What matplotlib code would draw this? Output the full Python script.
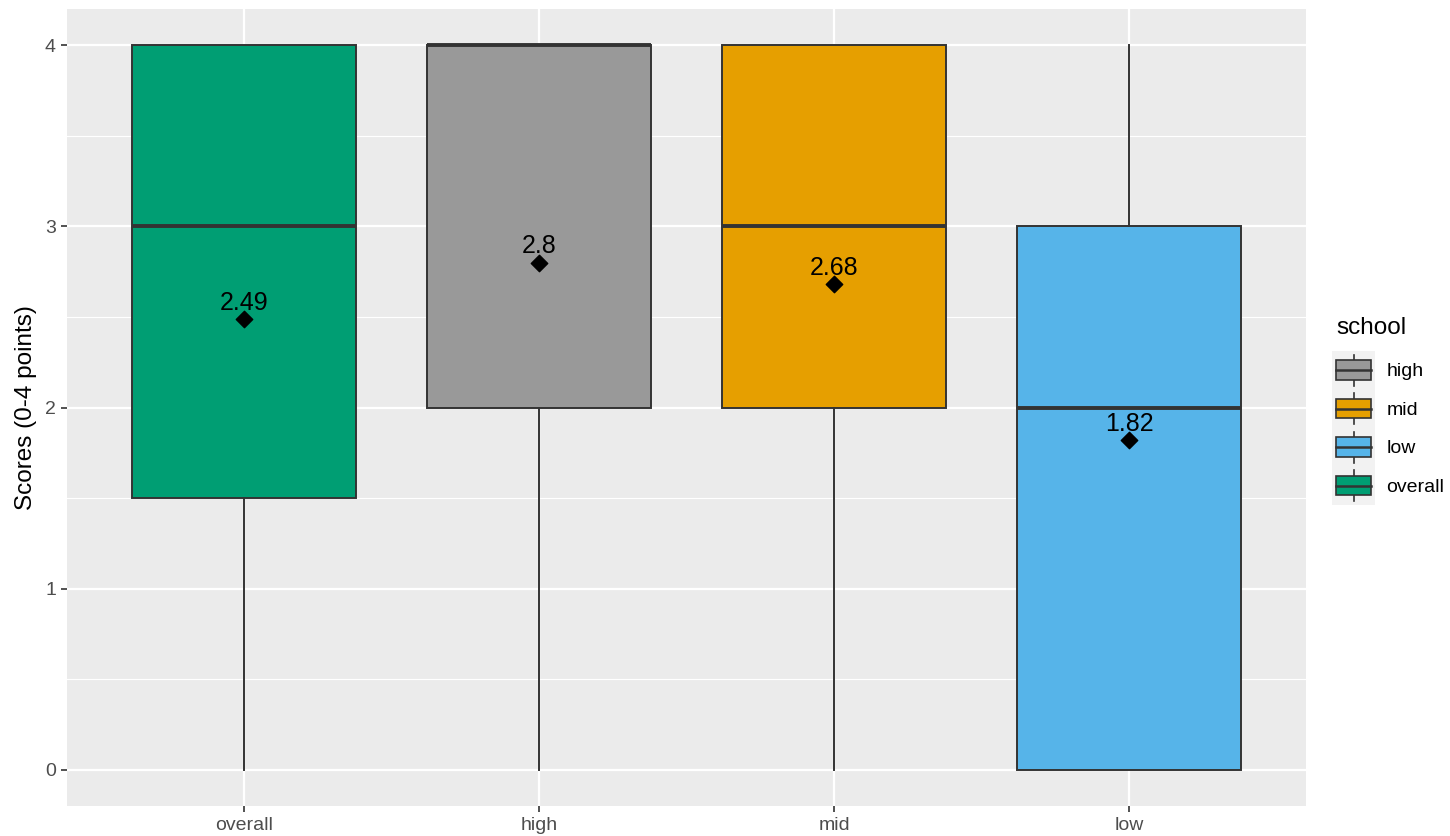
import matplotlib
matplotlib.use("Agg")
import matplotlib.pyplot as plt
from matplotlib.patches import Patch, Rectangle
from matplotlib.legend_handler import HandlerBase
from matplotlib.lines import Line2D

# --- data ---
groups = ["overall", "high", "mid", "low"]
q1 = [1.5, 2.0, 2.0, 0.0]
medians = [3.0, 4.0, 3.0, 2.0]
q3 = [4.0, 4.0, 4.0, 3.0]
whis_lo = [0.0, 0.0, 0.0, 0.0]
whis_hi = [4.0, 4.0, 4.0, 4.0]
means = [2.49, 2.8, 2.68, 1.82]
colors = {"overall": "#009E73", "high": "#999999", "mid": "#E69F00", "low": "#56B4E9"}
legend_order = ["high", "mid", "low", "overall"]

plt.rcParams["font.family"] = ["Liberation Sans", "DejaVu Sans"]

fig = plt.figure(figsize=(14.5, 8.36), dpi=100)
ax = fig.add_axes([67 / 1450, 1 - 806 / 836, (1306 - 67) / 1450, (806 - 9) / 836])

ax.set_facecolor("#EBEBEB")
for s in ax.spines.values():
    s.set_visible(False)

# gridlines, ggplot grey theme
for y in [0.5, 1.5, 2.5, 3.5]:
    ax.axhline(y, color="white", lw=0.8, zorder=0)
for y in [0, 1, 2, 3, 4]:
    ax.axhline(y, color="white", lw=1.6, zorder=0)
for x in range(len(groups)):
    ax.axvline(x, color="white", lw=1.6, zorder=0)

stats = []
for i, g in enumerate(groups):
    stats.append({"label": g, "q1": q1[i], "med": medians[i], "q3": q3[i],
                  "whislo": whis_lo[i], "whishi": whis_hi[i], "fliers": []})

bp = ax.bxp(stats, positions=range(len(groups)), widths=0.757, patch_artist=True,
            showcaps=False, showfliers=False,
            boxprops=dict(edgecolor="#333333", linewidth=1.4),
            whiskerprops=dict(color="#333333", linewidth=1.4),
            medianprops=dict(color="#333333", linewidth=2.8, solid_capstyle="butt"),
            zorder=2)
for patch, g in zip(bp["boxes"], groups):
    patch.set_facecolor(colors[g])

ax.scatter(range(len(groups)), means, marker="D", s=70, color="black", zorder=4)
for i, m in enumerate(means):
    ax.annotate(f"{m:g}", (i, m), xytext=(0, 3), textcoords="offset points",
                ha="center", va="bottom", fontsize=18, color="black", zorder=5)

ax.set_xlim(-0.6, len(groups) - 0.4)
ax.set_ylim(-0.2, 4.2)
ax.set_yticks([0, 1, 2, 3, 4])
ax.set_xticks(range(len(groups)))
ax.set_xticklabels(groups)
ax.tick_params(axis="both", colors="#333333", length=4, width=1.2, labelsize=14,
               labelcolor="#4D4D4D", pad=4)
ax.set_ylabel("Scores (0-4 points)", fontsize=17.5, color="black", labelpad=6)


# legend keys drawn like ggplot's boxplot key
class BoxHandler(HandlerBase):
    def __init__(self, color):
        super().__init__()
        self.color = color

    def create_artists(self, legend, orig_handle, xdescent, ydescent, width, height, fontsize, trans):
        cx = width / 2 - xdescent
        cy = height / 2 - ydescent
        key = height * 1.35
        bg = Rectangle((cx - width / 2 - 3, cy - key / 2), width + 6, key,
                       facecolor="#F2F2F2", edgecolor="none", transform=trans)
        wl = Line2D([cx, cx], [cy - height * 0.54, cy + height * 0.54], color="#333333",
                    lw=1.2, transform=trans)
        bx = Rectangle((cx - width / 2, cy - height * 0.34), width, height * 0.68,
                       facecolor=self.color, edgecolor="#333333", lw=1.2, transform=trans)
        ml = Line2D([cx - width / 2, cx + width / 2], [cy, cy],
                    color="#333333", lw=1.8, transform=trans)
        return [bg, wl, bx, ml]


handles = [Patch(label=g) for g in legend_order]
hmap = {h: BoxHandler(colors[g]) for h, g in zip(handles, legend_order)}
leg = fig.legend(handles=handles, labels=legend_order, handler_map=hmap,
                 loc="upper left", bbox_to_anchor=(1336 / 1450, 1 - 317 / 836),
                 frameon=False, title="school", title_fontsize=17.5, fontsize=14,
                 handlelength=1.8, handleheight=1.9, labelspacing=0.5, handletextpad=0.8,
                 borderaxespad=0, borderpad=0)
leg._legend_box.align = "left"
leg._legend_box.sep = 12

fig.savefig("out.png", dpi=100)
